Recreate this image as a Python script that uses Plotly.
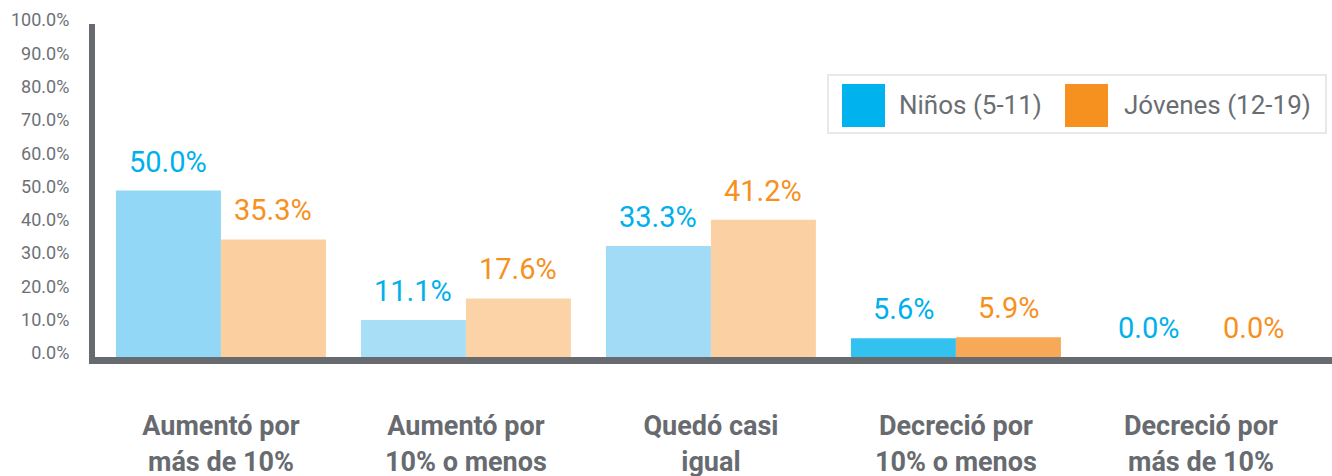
import plotly.graph_objects as go

categories = ["Aumentó por<br>más de 10%", "Aumentó por<br>10% o menos", "Quedó casi<br>igual",
              "Decreció por<br>10% o menos", "Decreció por<br>más de 10%"]
series_names = ["Niños (5-11)", "Jóvenes (12-19)"]
ninos = [50.0, 11.1, 33.3, 5.6, 0.0]
jovenes = [35.3, 17.6, 41.2, 5.9, 0.0]
y_ticks = [0, 10, 20, 30, 40, 50, 60, 70, 80, 90, 100]

label_colors = ["#00B0EC", "#F7901E"]
legend_colors = ["#00B2EE", "#F6901E"]
ninos_fill = ["#92D7F5", "#A8DEF6", "#A2DBF6", "#33C2F0", "#92D7F5"]
jovenes_fill = ["#FBCF9F", "#FCD3A6", "#FBD0A2", "#F7A958", "#FBCF9F"]

W, H = 1332, 476
L, R, T, B = 95, 0, 24, 119
x_idx = list(range(len(categories)))
BARGAP = 0.143
half = (1 - BARGAP) / 4

fig = go.Figure()
fig.add_trace(go.Bar(x=x_idx, y=ninos, name=series_names[0],
                     marker=dict(color=ninos_fill, line=dict(width=0)), showlegend=False))
fig.add_trace(go.Bar(x=x_idx, y=jovenes, name=series_names[1],
                     marker=dict(color=jovenes_fill, line=dict(width=0)), showlegend=False))

annotations = []
for vals, off, col in [(ninos, -half, label_colors[0]), (jovenes, half, label_colors[1])]:
    for i, v in zip(x_idx, vals):
        annotations.append(dict(x=i + off, y=v, xref="x", yref="y", text=f"{v:.1f}%",
                                showarrow=False, yanchor="middle", yshift=29,
                                font=dict(family="Roboto", size=29, color=col)))

# custom legend (pixel -> paper)
def px(xp):
    return (xp - L) / (W - L - R)

def py(yp):
    return (H - B - yp) / (H - T - B)

shapes = [dict(type="rect", xref="paper", yref="paper", x0=px(828), x1=px(1326), y0=py(133), y1=py(75),
               line=dict(color="#E6E8EA", width=2), fillcolor="rgba(0,0,0,0)")]
leg_pos = [(842, 897), (1065, 1122)]
for (sx, tx), name, col in zip(leg_pos, series_names, legend_colors):
    shapes.append(dict(type="rect", xref="paper", yref="paper", x0=px(sx), x1=px(sx + 43),
                       y0=py(127), y1=py(84), line=dict(width=0), fillcolor=col))
    annotations.append(dict(x=px(tx), y=py(105), xref="paper", yref="paper", text=name,
                            showarrow=False, xanchor="left", yanchor="middle",
                            font=dict(family="Roboto", size=26, color="#6A6E73")))

fig.update_layout(
    width=W, height=H,
    margin=dict(l=L, r=R, t=T, b=B, pad=0, autoexpand=False),
    paper_bgcolor="white", plot_bgcolor="white",
    barmode="group", bargap=BARGAP, bargroupgap=0,
    showlegend=False,
    annotations=annotations, shapes=shapes,
    xaxis=dict(range=[-0.514, 4.535], tickvals=x_idx, ticktext=categories, automargin=False,
               showgrid=False, zeroline=False, showline=True, linecolor="#676B6F", linewidth=7,
               ticks="", ticklabelstandoff=39,
               tickfont=dict(family="Roboto", size=27, color="#676B70", weight="bold")),
    yaxis=dict(range=[0, 100], tickvals=y_ticks, ticktext=[f"{v:.1f}%" for v in y_ticks],
               automargin=False,
               showgrid=False, zeroline=False, showline=True, linecolor="#676B6F", linewidth=6,
               ticks="", ticklabelshift=-4, ticklabelstandoff=16,
               tickfont=dict(family="Roboto", size=18, color="#6D7176")),
)

fig.write_html("out.html", config={"displayModeBar": False},
               post_script="document.body.style.margin='0';document.body.style.overflow='hidden';")
